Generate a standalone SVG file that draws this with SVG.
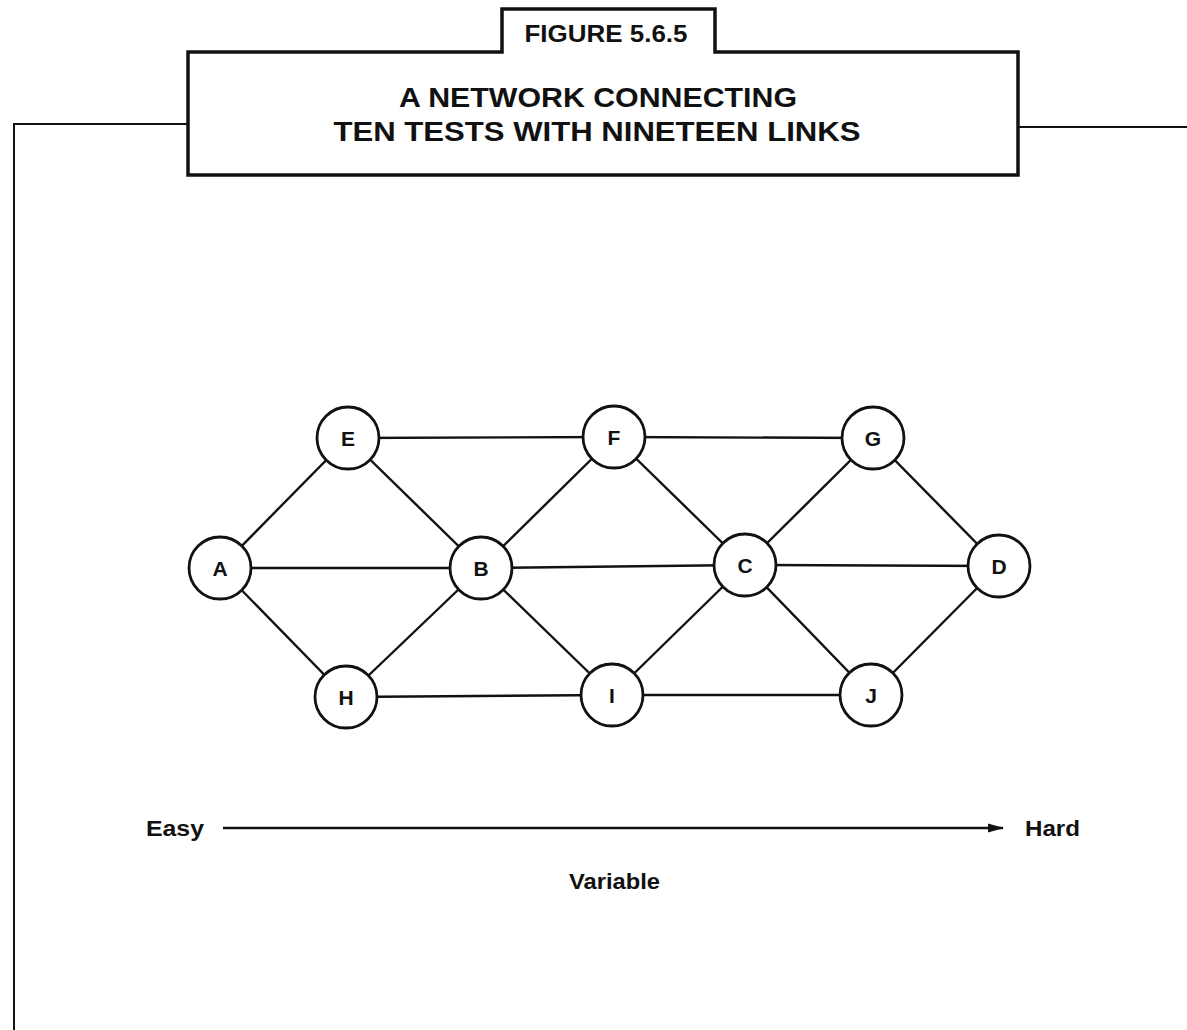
<svg xmlns="http://www.w3.org/2000/svg" width="1187" height="1030" viewBox="0 0 1187 1030">
<style>
.node circle{fill:#fff;stroke:#111;stroke-width:2.8}
.node text{font-family:"Liberation Sans",Arial,sans-serif;font-weight:bold;font-size:21px;fill:#111;text-anchor:middle}
.edge{stroke:#111;stroke-width:2.4;fill:none}
.lbl{font-family:"Liberation Sans",Arial,sans-serif;font-weight:bold;fill:#111}
.frame{stroke:#111;fill:none}
</style>
<defs>
<marker id="arr" markerWidth="16" markerHeight="12" refX="15" refY="6" orient="auto" markerUnits="userSpaceOnUse">
<path d="M0,1.5 L16,6 L0,10.5 Z" fill="#111"/>
</marker>
</defs>
<rect width="1187" height="1030" fill="#fff"/>
<g id="frame">
<path class="frame" stroke-width="2" d="M188,124 H14 V1030"/>
<path class="frame" stroke-width="2" d="M1018,127 H1187"/>
<path class="frame" stroke-width="3.5" d="M188,52 H502 V9 H715 V52 H1018 V175 H188 Z"/>
<text class="lbl" x="606" y="42" font-size="23" text-anchor="middle" textLength="163" lengthAdjust="spacingAndGlyphs">FIGURE 5.6.5</text>
<text class="lbl" x="598" y="107" font-size="27" text-anchor="middle" textLength="398" lengthAdjust="spacingAndGlyphs">A NETWORK CONNECTING</text>
<text class="lbl" x="597" y="141" font-size="27" text-anchor="middle" textLength="527" lengthAdjust="spacingAndGlyphs">TEN TESTS WITH NINETEEN LINKS</text>
</g>
<g id="connectors">
<line class="edge" x1="220" y1="568" x2="348" y2="438"/>
<line class="edge" x1="220" y1="568" x2="481" y2="568"/>
<line class="edge" x1="220" y1="568" x2="346" y2="697"/>
<line class="edge" x1="348" y1="438" x2="614" y2="437"/>
<line class="edge" x1="348" y1="438" x2="481" y2="568"/>
<line class="edge" x1="346" y1="697" x2="481" y2="568"/>
<line class="edge" x1="346" y1="697" x2="612" y2="695"/>
<line class="edge" x1="481" y1="568" x2="614" y2="437"/>
<line class="edge" x1="481" y1="568" x2="745" y2="565"/>
<line class="edge" x1="481" y1="568" x2="612" y2="695"/>
<line class="edge" x1="614" y1="437" x2="873" y2="438"/>
<line class="edge" x1="614" y1="437" x2="745" y2="565"/>
<line class="edge" x1="612" y1="695" x2="745" y2="565"/>
<line class="edge" x1="612" y1="695" x2="871" y2="695"/>
<line class="edge" x1="745" y1="565" x2="873" y2="438"/>
<line class="edge" x1="745" y1="565" x2="999" y2="566"/>
<line class="edge" x1="745" y1="565" x2="871" y2="695"/>
<line class="edge" x1="873" y1="438" x2="999" y2="566"/>
<line class="edge" x1="871" y1="695" x2="999" y2="566"/>
</g>
<g id="node-A" class="node"><circle cx="220" cy="568" r="31"/><text x="220" y="575.5">A</text></g>
<g id="node-E" class="node"><circle cx="348" cy="438" r="31"/><text x="348" y="445.5">E</text></g>
<g id="node-H" class="node"><circle cx="346" cy="697" r="31"/><text x="346" y="704.5">H</text></g>
<g id="node-B" class="node"><circle cx="481" cy="568" r="31"/><text x="481" y="575.5">B</text></g>
<g id="node-F" class="node"><circle cx="614" cy="437" r="31"/><text x="614" y="444.5">F</text></g>
<g id="node-I" class="node"><circle cx="612" cy="695" r="31"/><text x="612" y="702.5">I</text></g>
<g id="node-C" class="node"><circle cx="745" cy="565" r="31"/><text x="745" y="572.5">C</text></g>
<g id="node-G" class="node"><circle cx="873" cy="438" r="31"/><text x="873" y="445.5">G</text></g>
<g id="node-J" class="node"><circle cx="871" cy="695" r="31"/><text x="871" y="702.5">J</text></g>
<g id="node-D" class="node"><circle cx="999" cy="566" r="31"/><text x="999" y="573.5">D</text></g>
<g id="axis">
<line class="edge" x1="223" y1="828" x2="1003" y2="828" marker-end="url(#arr)"/>
<text class="lbl" x="146" y="836" font-size="22" textLength="58" lengthAdjust="spacingAndGlyphs">Easy</text>
<text class="lbl" x="1025" y="836" font-size="22" textLength="55" lengthAdjust="spacingAndGlyphs">Hard</text>
<text class="lbl" x="569" y="889" font-size="22" textLength="91" lengthAdjust="spacingAndGlyphs">Variable</text>
</g>
</svg>
